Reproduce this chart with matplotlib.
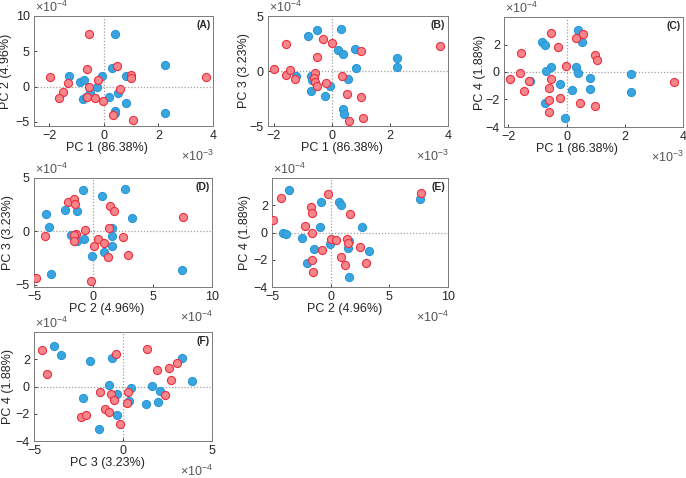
import matplotlib.pyplot as plt
import numpy as np

plt.rcParams['font.family'] = ['Liberation Sans', 'DejaVu Sans']
plt.rcParams['mathtext.fontset'] = 'custom'
plt.rcParams['mathtext.rm'] = 'Liberation Sans'

# PC scores (PC1 in 1e-3, PC2..PC4 in 1e-4)
A_red = [(-0.53, 7.43), (-1.98, 1.29), (-1.31, 0.43), (-1.48, -0.71), (-1.62, -1.57), (-0.62, 2.43),
         (-0.22, 0.86), (-0.53, 0.0), (-0.60, -1.52), (-0.30, -1.62), (-0.01, -2.10), (0.49, 2.90),
         (1.01, 1.67), (0.99, 1.14), (0.58, -0.38), (0.33, -4.10), (1.09, -4.76), (3.75, 1.33)]
A_blue = [(0.40, 7.43), (2.25, 3.10), (2.25, -3.71), (-1.27, 1.52), (-0.86, 0.71), (-0.72, 0.86),
          (-0.07, 1.52), (0.31, 2.57), (0.81, 1.43), (-0.25, -0.10), (-0.49, -0.86), (-0.74, -1.81),
          (-0.65, -1.43), (0.21, -1.48), (0.54, -0.90), (0.81, -2.38), (0.42, -3.48), (0.40, -3.80)]

B_red = [(-2.00, 0.18), (-1.58, 2.50), (-1.58, -0.33), (-1.43, 0.09), (-1.27, -0.72), (-0.29, 2.89),
         (0.00, 2.59), (-0.52, 1.23), (-0.58, -0.21), (-0.60, -0.66), (-0.58, -0.96), (-0.51, -1.36),
         (-0.21, -1.05), (0.34, -0.45), (0.52, -2.11), (0.99, -2.38), (0.99, 1.81), (0.59, -4.55),
         (1.06, -4.25), (3.71, 2.26)]
B_blue = [(-0.51, 3.77), (-0.83, 3.19), (0.32, 3.80), (0.21, 1.87), (0.40, 1.54), (0.81, 1.96),
          (0.84, 0.24), (2.24, 1.17), (2.24, 0.36), (-1.25, -0.45), (-0.72, -0.45), (-0.67, -0.81),
          (-0.05, -1.33), (-0.72, -1.81), (-0.23, -2.26), (0.54, -0.69), (0.38, -3.46), (0.42, -3.89)]

C_red = [(-1.95, -0.54), (-1.58, 1.41), (-1.60, -0.05), (-1.47, -1.36), (-1.29, -0.64), (-0.52, 2.85),
         (-0.30, 1.79), (-0.54, -0.51), (-0.61, -1.15), (-0.60, -2.05), (-0.59, -2.92), (-0.24, -1.87),
         (-0.02, 0.41), (0.32, 2.44), (0.57, 2.77), (0.98, 1.23), (1.05, 0.85), (0.47, -2.23),
         (0.98, -2.44), (3.69, -0.74)]
C_blue = [(-0.86, 2.21), (-0.73, 1.95), (0.40, 3.08), (0.52, 2.18), (-0.52, 0.38), (-0.72, 0.08),
          (-1.25, -0.62), (0.31, 0.33), (0.39, -0.05), (-0.24, -0.90), (0.18, -1.28), (0.80, -0.44),
          (0.81, -1.21), (2.22, -0.15), (2.22, -1.46), (-0.75, -2.23), (-0.07, -3.38)]

D_red = [(-4.83, -4.39), (-4.11, -0.41), (-2.16, 2.71), (-1.61, 3.03), (-1.58, 2.55), (-1.44, -0.22),
         (-1.61, -0.38), (-1.64, -0.86), (-0.69, 0.16), (0.06, -1.37), (0.40, -0.73), (0.92, -1.11),
         (1.21, -2.36), (1.41, 2.39), (1.72, 1.88), (1.35, 0.32), (2.47, -0.54), (2.93, -2.17),
         (-0.20, -4.68), (7.56, 1.34)]
D_blue = [(-0.86, 3.92), (2.67, 3.98), (0.72, 3.31), (-4.00, 1.59), (-3.74, 0.41), (-2.39, 2.04),
          (-1.38, 1.91), (-1.90, -0.38), (-0.80, -0.67), (-1.38, -0.86), (1.55, 0.32), (1.58, -0.45),
          (1.58, -1.37), (3.22, 1.24), (-0.09, -2.32), (0.86, -1.91), (-3.53, -3.95), (7.47, -3.57)]

E_red = [(-4.88, 0.92), (-4.22, 2.51), (-2.21, 0.46), (-1.69, 1.85), (-1.63, 1.46), (-1.57, -0.05),
         (-1.63, -2.03), (-1.51, -2.90), (-0.70, -1.31), (-0.23, 2.82), (0.06, -0.49), (0.44, -0.56),
         (0.87, -1.82), (1.22, -2.36), (1.42, -0.49), (1.45, -0.77), (1.69, 1.33), (2.50, -1.08),
         (2.97, -2.21), (7.67, 2.90)]
E_blue = [(-3.58, 3.13), (-4.04, 0.0), (-3.78, -0.10), (-2.44, -0.38), (-0.84, 2.21), (-0.90, 0.41),
          (-1.45, -1.21), (-1.98, -2.21), (0.67, 2.23), (0.87, 2.00), (-0.09, -0.85), (1.57, -0.64),
          (1.51, -1.13), (2.67, 0.44), (3.23, -1.38), (1.60, -3.28), (7.62, 2.49)]

F_red = [(-4.55, 2.65), (-4.27, 0.89), (-2.38, -2.22), (-2.10, -2.07), (-1.31, -0.43), (-1.03, -1.66),
         (-0.81, -1.88), (-0.66, -0.55), (-0.49, -1.01), (-0.37, 2.36), (-0.15, -2.72), (0.21, -1.20),
         (0.30, -0.43), (1.33, 2.72), (1.91, 1.23), (2.58, 1.37), (3.01, 1.71), (2.70, 0.46),
         (2.38, -0.63)]
F_blue = [(-3.88, 2.94), (-3.46, 2.34), (-1.84, 1.88), (-0.62, 2.07), (-0.81, 0.14), (-0.36, -0.53),
          (-2.25, -0.84), (-0.36, -2.07), (-1.33, -3.11), (0.47, -0.10), (0.34, -1.06), (1.31, -1.30),
          (1.63, 0.05), (2.06, -0.34), (1.97, -1.11), (3.30, 2.12), (3.90, 0.39)]

xlabels = ['PC 1 (86.38%)', 'PC 1 (86.38%)', 'PC 1 (86.38%)', 'PC 2 (4.96%)', 'PC 2 (4.96%)', 'PC 3 (3.23%)']
ylabels = ['PC 2 (4.96%)', 'PC 3 (3.23%)', 'PC 4 (1.88%)', 'PC 3 (3.23%)', 'PC 4 (1.88%)', 'PC 4 (1.88%)']
xexp = ['-3', '-3', '-3', '-4', '-4', '-4']
letters = ['(A)', '(B)', '(C)', '(D)', '(E)', '(F)']

W, H = 686, 478
# axes boxes in pixels: left, top, right, bottom
boxes = [(34, 16, 213, 126), (268, 16, 448, 126), (504, 17, 683, 127),
         (34, 178, 212, 287), (272, 178, 448, 287), (34, 332, 212, 441)]
xlims = [(-2.55, 4), (-2.2, 4), (-2.15, 4), (-5, 10), (-5, 10), (-5, 5)]
ylims = [(-5.6, 10), (-5, 5), (-4, 4), (-5.2, 5), (-4, 4), (-4, 4)]
xticks = [[-2, 0, 2, 4]] * 3 + [[-5, 0, 5, 10]] * 2 + [[-5, 0, 5]]
yticks = [[-5, 0, 5, 10], [-5, 0, 5], [-4, -2, 0, 2], [-5, 0, 5], [-4, -2, 0, 2], [-4, -2, 0, 2]]
ylab_x = [6, 244, 480, 8, 245, 8]

reds = [A_red, B_red, C_red, D_red, E_red, F_red]
blues = [A_blue, B_blue, C_blue, D_blue, E_blue, F_blue]

fig = plt.figure(figsize=(W / 100, H / 100), dpi=100)

for i in range(6):
    l, t, r, b = boxes[i]
    ax = fig.add_axes([l / W, 1 - b / H, (r - l) / W, (b - t) / H])
    ax.axhline(0, color='#a0a0a0', lw=0.9, ls=(0, (1, 1.5)), zorder=1)
    ax.axvline(0, color='#a0a0a0', lw=0.9, ls=(0, (1, 1.5)), zorder=1)
    bl = np.array(blues[i])
    rd = np.array(reds[i])
    ax.scatter(bl[:, 0], bl[:, 1], s=34, c='#3aa6e0', edgecolors='#2b96d6', linewidths=0.8, zorder=3)
    ax.scatter(rd[:, 0], rd[:, 1], s=34, c='#f5868c', edgecolors='#ec2f3e', linewidths=0.8, zorder=3)
    ax.set_xlim(xlims[i])
    ax.set_ylim(ylims[i])
    ax.set_xticks(xticks[i])
    ax.set_yticks(yticks[i])
    ax.tick_params(direction='in', length=2.5, width=0.6, labelsize=9, pad=3, colors='#262626')
    for sp in ax.spines.values():
        sp.set_color('#7a7a7a')
        sp.set_linewidth(0.7)
    ax.set_xlabel(xlabels[i], fontsize=9, color='#262626')
    ax.xaxis.label.set_va('center')
    ax.xaxis.set_label_coords(0.41, -22 / (b - t))
    ax.set_ylabel(ylabels[i], fontsize=9, color='#262626')
    ax.yaxis.label.set_va('center')
    ax.yaxis.set_label_coords((ylab_x[i] - l) / (r - l), 0.5)
    ax.text(0.985, 0.92, letters[i], transform=ax.transAxes, ha='right', va='center',
            fontsize=7.5, fontweight='bold', color='#262626')
    # exponent labels, MATLAB style
    fig.text((l + 1) / W, 1 - (t - 1) / H, r'$\times10^{-4}$', ha='left', va='bottom',
             fontsize=9, color='#555555')
    fig.text((r + 1) / W, 1 - (b + 23) / H, r'$\times10^{%s}$' % xexp[i], ha='right', va='top',
             fontsize=9, color='#555555')

fig.savefig('out.png', dpi=100)
